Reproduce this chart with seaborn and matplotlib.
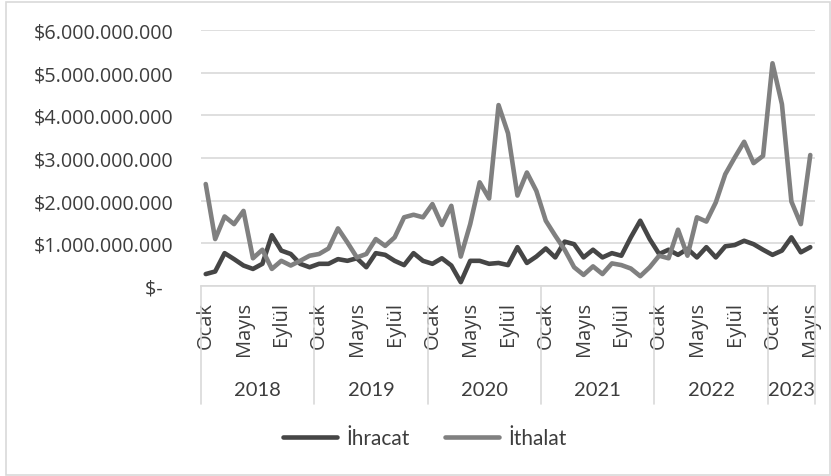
import numpy as np
import pandas as pd
import matplotlib
matplotlib.use("Agg")
import matplotlib.pyplot as plt
import matplotlib.ticker as mticker
import matplotlib.transforms as mtransforms
from matplotlib.patches import Rectangle
import seaborn as sns

# Monthly trade values, billions of USD, Jan 2018 - May 2023
years = ["2018", "2019", "2020", "2021", "2022", "2023"]
months_per_year = [12, 12, 12, 12, 12, 5]
month_names = {0: "Ocak", 4: "Mayıs", 8: "Eylül"}
series_names = ["İhracat", "İthalat"]

ihracat = [
    0.28, 0.34, 0.77, 0.63, 0.48, 0.40, 0.52, 1.19, 0.83, 0.75, 0.52, 0.44,
    0.52, 0.52, 0.63, 0.59, 0.65, 0.44, 0.77, 0.73, 0.59, 0.49, 0.77, 0.59,
    0.52, 0.65, 0.48, 0.09, 0.59, 0.59, 0.52, 0.54, 0.49, 0.91, 0.54, 0.69,
    0.88, 0.67, 1.04, 0.98, 0.67, 0.85, 0.67, 0.77, 0.71, 1.14, 1.53, 1.10,
    0.75, 0.85, 0.73, 0.87, 0.67, 0.91, 0.67, 0.93, 0.96, 1.06, 0.98, 0.85,
    0.73, 0.83, 1.14, 0.79, 0.91,
]
ithalat = [
    2.39, 1.10, 1.63, 1.45, 1.76, 0.65, 0.85, 0.40, 0.59, 0.48, 0.59, 0.71,
    0.75, 0.88, 1.35, 1.02, 0.67, 0.75, 1.10, 0.94, 1.14, 1.61, 1.67, 1.61,
    1.92, 1.43, 1.88, 0.69, 1.45, 2.43, 2.05, 4.24, 3.58, 2.12, 2.66, 2.23,
    1.53, 1.18, 0.85, 0.44, 0.26, 0.46, 0.28, 0.53, 0.49, 0.41, 0.23, 0.44,
    0.71, 0.65, 1.32, 0.71, 1.61, 1.51, 1.96, 2.62, 3.01, 3.38, 2.88, 3.05,
    5.22, 4.26, 1.98, 1.45, 3.07,
]

n = len(ihracat)
df = pd.DataFrame({
    "ay": list(range(n)) * 2,
    "deger": np.array(ihracat + ithalat) * 1e9,
    "seri": [series_names[0]] * n + [series_names[1]] * n,
})

sns.set_theme(style="white")
plt.rcParams["font.family"] = ["Open Sans", "DejaVu Sans"]

W, H = 831, 477
fig = plt.figure(figsize=(W / 100, H / 100), dpi=100)
ax = fig.add_axes([201 / W, 1 - 287 / H, 614 / W, 256 / H])

palette = {series_names[0]: "#464646", series_names[1]: "#808080"}
sns.lineplot(data=df, x="ay", y="deger", hue="seri", palette=palette,
             linewidth=3.3, ax=ax, legend=False)
for ln in ax.lines:
    ln.set_solid_joinstyle("round")
    ln.set_solid_capstyle("round")

grid_col = "#d9d9d9"
text_col = "#3d3d3d"

ax.set_xlim(-0.5, n - 0.5)
ax.set_ylim(0, 6e9)
ax.set_yticks(np.arange(0, 6.5e9, 1e9))


def money(v, pos):
    if v == 0:
        return "$-  "
    return "$" + f"{int(round(v)):,}".replace(",", ".")


ax.yaxis.set_major_formatter(mticker.FuncFormatter(money))
ax.yaxis.grid(True, color=grid_col, linewidth=1.2)
ax.xaxis.grid(False)
for side in ("top", "left", "right"):
    ax.spines[side].set_visible(False)
ax.spines["bottom"].set_color(grid_col)
ax.spines["bottom"].set_linewidth(1.2)
ax.tick_params(axis="y", length=0, pad=20, labelsize=14.2, labelcolor=text_col)
ax.set_xlabel("")
ax.set_ylabel("")

# Month labels and year groups on the category axis
tick_pos, tick_lab = [], []
bounds = [-0.5]
start = 0
for yr, cnt in zip(years, months_per_year):
    for m, name in month_names.items():
        if m < cnt:
            tick_pos.append(start + m)
            tick_lab.append(name)
    start += cnt
    bounds.append(start - 0.5)

ax.set_xticks(tick_pos)
ax.set_xticklabels(tick_lab, rotation=90, va="top", ha="center")
ax.tick_params(axis="x", length=0, pad=11.0, labelsize=14.5, labelcolor=text_col)

trans = mtransforms.blended_transform_factory(ax.transData, ax.transAxes)
sep_bottom = -(405 - 287) / 256
for b in bounds:
    ax.plot([b, b], [0, sep_bottom], transform=trans, color=grid_col,
            linewidth=1.2, clip_on=False)

year_y = -(390 - 287) / 256
for yr, lo, hi in zip(years, bounds[:-1], bounds[1:]):
    ax.text((lo + hi) / 2, year_y, yr, transform=trans, ha="center", va="center",
            fontsize=14.5, color=text_col, family=["Lato", "DejaVu Sans"])

fig.legend(handles=ax.lines[:2], labels=series_names, loc="center",
           bbox_to_anchor=(425 / W, 1 - 439 / H), ncol=2, frameon=False,
           handlelength=2.6, handletextpad=0.45, columnspacing=1.7,
           prop={"family": ["Lato", "DejaVu Sans"], "size": 15})
for t in fig.legends[0].get_texts():
    t.set_color(text_col)

fig.patches.append(Rectangle((6 / W, 1 - 476 / H), 824 / W, 473 / H,
                             transform=fig.transFigure, fill=False,
                             edgecolor=grid_col, linewidth=1.2))

fig.savefig("out.png", dpi=100)
